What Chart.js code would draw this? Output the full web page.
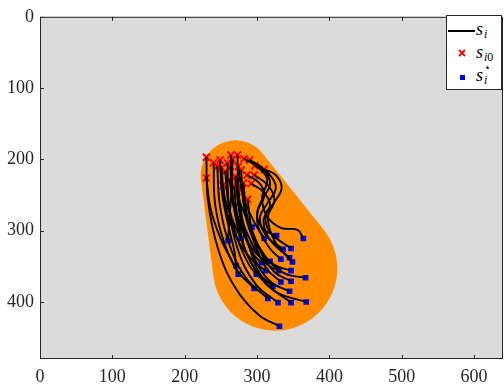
<!DOCTYPE html>
<html>
<head>
<meta charset="utf-8">
<script src="https://cdn.jsdelivr.net/npm/chart.js@4"></script>
<style>
html, body { margin: 0; padding: 0; overflow: hidden; background: #fff; }
#wrap { position: relative; width: 504px; height: 388px; overflow: hidden; }
#plot { position: absolute; left: 0; top: 0; }
#legend { position: absolute; left: 446px; top: 15px; width: 56px; height: 75px; border: 1px solid #262626; background: #fff; box-sizing: border-box; }
.lg { position: absolute; font-family: "Liberation Serif", "Times New Roman", Times, serif; font-style: italic; line-height: 1; color: #000; white-space: nowrap; }
.big { font-size: 18px; }
.small { font-size: 12px; }
.up { font-style: normal; }
.star { font-family: "DejaVu Sans", sans-serif; font-style: normal; font-size: 11px; }
</style>
</head>
<body>
<div id="wrap">
  <canvas id="plot" width="510" height="388"></canvas>
  <div id="legend"></div>
  <span class="lg big" style="left:476px; top:20px;">s</span>
  <span class="lg small" style="left:484px; top:28px;">i</span>
  <span class="lg big" style="left:476px; top:43px;">s</span>
  <span class="lg small" style="left:484px; top:51px;">i<span class="up">0</span></span>
  <span class="lg big" style="left:476px; top:66px;">s</span>
  <span class="lg small" style="left:484px; top:74px;">i</span>
  <span class="lg star" style="left:484px; top:62px;">⋆</span>
</div>
<script>
// --- axes ---
const xTicks = [0, 100, 200, 300, 400, 500, 600];
const yTicks = [0, 100, 200, 300, 400];
const xMax = 640;
const yMax = 480;

// --- feasible region: hull of two discs ---
const regionCenters = [[270, 222], [325, 353]];
const regionRadii = [48, 86];

// --- robots: initial positions s_i0 ---
const starts = [
    [230, 197], [230, 226], [240, 205], [249, 201], [259, 205], [264, 194],
    [273, 194], [282, 199], [290, 201], [297, 209], [310, 214], [256, 217],
    [263, 210], [270, 224], [253, 237], [271, 232], [281, 233], [292, 234],
    [272, 245], [287, 256], [274, 210], [266, 200], [251, 212], [278, 215],
    [286, 222], [262, 228], [245, 210], [296, 222], [279, 242], [268, 238]
];

// --- final positions s_i* ---
const goals = [
    [331, 434], [274, 361], [296, 381], [271, 349], [329, 401], [322, 378],
    [347, 401], [364, 311], [327, 307], [336, 326], [347, 325], [299, 361],
    [306, 345], [293, 295], [312, 356], [330, 356], [347, 371], [345, 338],
    [345, 385], [367, 366], [310, 311], [260, 314], [278, 311], [333, 372],
    [333, 340], [318, 343], [315, 395], [349, 344], [347, 356], [368, 400]
];

// --- intermediate points read along each trajectory s_i ---
const bends = [
    [[232, 256], [246, 325], [270, 380], [302, 418]],
    [[236, 270], [250, 312], [265, 342]],
    [[242, 262], [254, 315], [272, 355]],
    [[252, 250], [262, 300], [269, 330]],
    [[261, 262], [273, 325], [298, 375]],
    [[266, 250], [278, 312], [298, 355]],
    [[275, 252], [287, 315], [310, 370]],
    [[300, 210], [314, 228], [307, 254], [314, 280], [333, 296], [356, 299]],
    [[308, 213], [318, 234], [306, 258], [300, 280], [310, 299]],
    [[316, 220], [326, 240], [314, 262], [304, 282], [312, 306]],
    [[326, 222], [334, 240], [324, 260], [312, 277], [318, 302]],
    [[261, 265], [273, 312], [289, 348]],
    [[267, 257], [281, 302], [295, 333]],
    [[275, 256], [285, 281]],
    [[259, 277], [276, 318], [295, 343]],
    [[277, 277], [293, 318], [311, 345]],
    [[287, 282], [304, 328], [324, 358]],
    [[309, 246], [318, 264], [309, 286], [318, 313]],
    [[279, 292], [296, 338], [318, 371]],
    [[294, 302], [313, 338], [338, 360]],
    [[281, 252], [296, 288]],
    [[265, 242], [262, 281]],
    [[255, 252], [267, 287]],
    [[282, 264], [295, 313], [313, 353]],
    [[303, 233], [310, 251], [301, 272], [302, 296], [317, 324]],
    [[269, 272], [286, 313], [303, 336]],
    [[249, 267], [263, 323], [286, 368]],
    [[315, 236], [324, 257], [315, 282], [325, 316]],
    [[286, 287], [302, 325], [324, 348]],
    [[275, 292], [291, 343], [323, 384]]
];

const toXY = p => ({ x: p[0], y: p[1] });

const pathSets = starts.map((s, i) => ({
    data: [s, ...bends[i], goals[i]].map(toXY),
    showLine: true,
    borderColor: '#000000',
    borderWidth: 1.9,
    pointRadius: 0,
    tension: 0.4,
    fill: false
}));

// plot background, region and box
const regionPlugin = {
    id: 'region',
    beforeDatasetsDraw(chart) {
        const { ctx, chartArea: a, scales: { x, y } } = chart;
        ctx.save();
        ctx.fillStyle = '#dbdbdb';
        ctx.fillRect(a.left, a.top, a.right - a.left, a.bottom - a.top);
        const c = regionCenters.map(p => [x.getPixelForValue(p[0]), y.getPixelForValue(p[1])]);
        const k = x.getPixelForValue(1) - x.getPixelForValue(0);
        const r = regionRadii.map(v => v * k);
        const dx = c[1][0] - c[0][0], dy = c[1][1] - c[0][1];
        const d = Math.hypot(dx, dy);
        const th = Math.atan2(dy, dx);
        const al = Math.acos((r[0] - r[1]) / d);
        ctx.beginPath();
        ctx.arc(c[0][0], c[0][1], r[0], th + al, th - al + 2 * Math.PI);
        ctx.arc(c[1][0], c[1][1], r[1], th - al, th + al);
        ctx.closePath();
        ctx.fillStyle = '#ff8c00';
        ctx.fill();
        ctx.restore();
    },
    afterDraw(chart) {
        const { ctx, chartArea: a, scales: { x, y } } = chart;
        ctx.save();
        ctx.strokeStyle = '#262626';
        ctx.lineWidth = 1;
        ctx.strokeRect(a.left + 0.5, a.top + 0.5, a.right - a.left - 1, a.bottom - a.top - 1);
        ctx.beginPath();
        xTicks.forEach(v => {
            const px = Math.round(x.getPixelForValue(v)) + 0.5;
            ctx.moveTo(px, a.bottom);
            ctx.lineTo(px, a.bottom - 4);
            ctx.moveTo(px, a.top);
            ctx.lineTo(px, a.top + 4);
        });
        yTicks.forEach(v => {
            const py = Math.round(y.getPixelForValue(v)) + 0.5;
            ctx.moveTo(a.left, py);
            ctx.lineTo(a.left + 4, py);
        });
        ctx.stroke();
        ctx.restore();
    }
};

const tickFont = { family: '"Liberation Serif", "Times New Roman", Times, serif', size: 18 };

new Chart(document.getElementById('plot').getContext('2d'), {
    type: 'scatter',
    data: {
        datasets: [
            ...pathSets,
            {
                data: starts.map(toXY),
                pointStyle: 'crossRot',
                pointRadius: 5,
                borderColor: '#ff0000',
                borderWidth: 2,
                showLine: false
            },
            {
                data: goals.map(toXY),
                pointStyle: 'rect',
                pointRadius: 4,
                backgroundColor: '#0000ff',
                borderColor: '#0000ff',
                borderWidth: 0,
                showLine: false
            }
        ]
    },
    options: {
        responsive: false,
        animation: false,
        events: [],
        layout: { padding: { top: 10, right: 2.8, left: 0, bottom: 0 } },
        plugins: {
            legend: { display: false },
            tooltip: { enabled: false }
        },
        scales: {
            x: {
                type: 'linear',
                min: 0,
                max: xMax,
                afterBuildTicks: s => { s.ticks = xTicks.map(v => ({ value: v })); },
                afterFit: s => { s.height = 29; },
                grid: { display: false, drawTicks: false },
                border: { display: false },
                ticks: { font: tickFont, color: '#262626', padding: 7, maxRotation: 0 }
            },
            y: {
                type: 'linear',
                reverse: true,
                min: 0,
                max: yMax,
                afterBuildTicks: s => { s.ticks = yTicks.map(v => ({ value: v })); },
                afterFit: s => { s.width = 40; },
                grid: { display: false, drawTicks: false },
                border: { display: false },
                ticks: { font: tickFont, color: '#262626', padding: 6 }
            }
        }
    },
    plugins: [regionPlugin]
});
</script>
<div style="position:absolute; left:448px; top:30px; width:27px; height:2px; background:#000;"></div>
<svg style="position:absolute; left:458px; top:49px;" width="8" height="8">
  <path d="M1 1 L7 7 M7 1 L1 7" stroke="#ff0000" stroke-width="1.8"/>
</svg>
<div style="position:absolute; left:460px; top:75px; width:5px; height:5px; background:#0000ff;"></div>
</body>
</html>
